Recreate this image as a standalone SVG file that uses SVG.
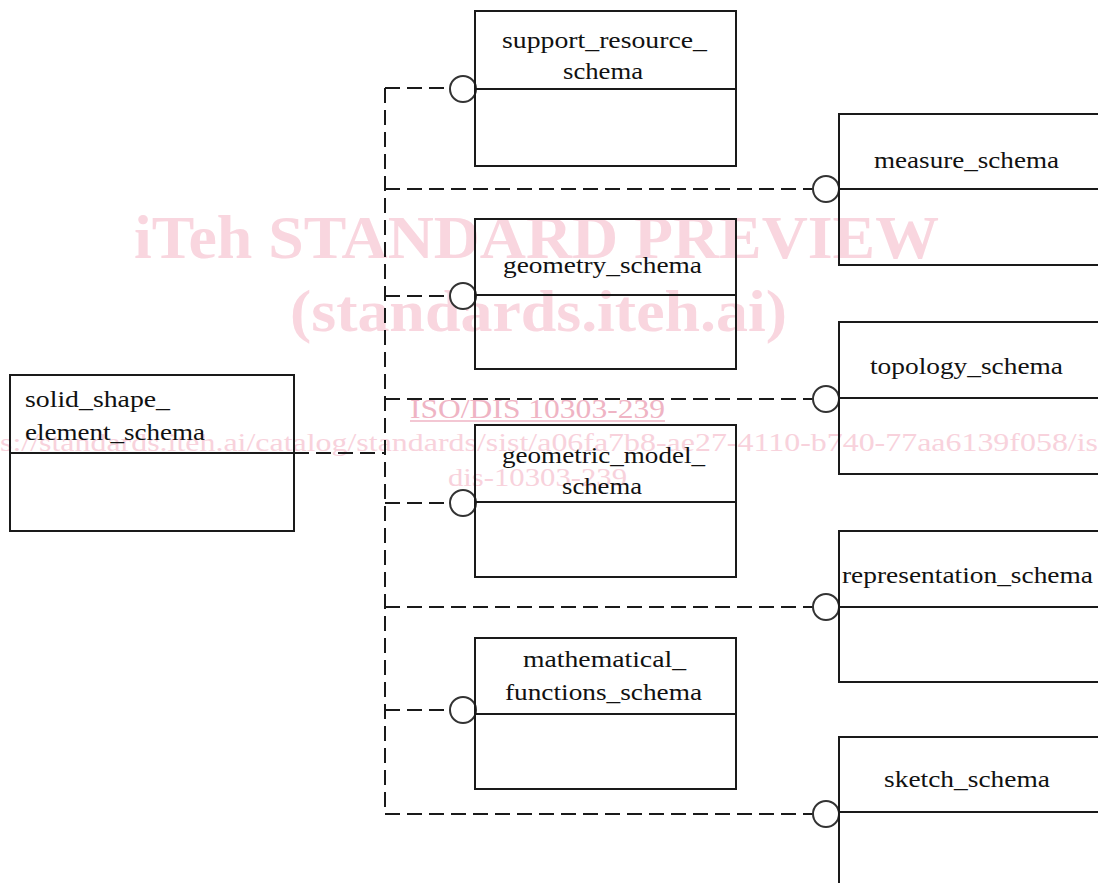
<svg xmlns="http://www.w3.org/2000/svg" width="1098" height="883" viewBox="0 0 1098 883">
<style>
.wm{font-family:"Liberation Serif","Times New Roman",serif;font-weight:bold;fill:#f9d6df}
.wm2{font-family:"Liberation Serif","Times New Roman",serif;fill:#f8d2dc}
.iso{font-family:"Liberation Serif","Times New Roman",serif;fill:#efb4c4}
.box{fill:none;stroke:#1a1a1a;stroke-width:2}
.lbl{font-family:"Liberation Serif","Times New Roman",serif;font-size:23px;fill:#111}
.dash{fill:none;stroke:#1a1a1a;stroke-width:2;stroke-dasharray:15 7}
.ring{fill:#fff;stroke:#333;stroke-width:2}
</style>
<rect width="1098" height="883" fill="#fff"/>
<g id="watermark">
<text class="wm" x="134" y="258" font-size="62" textLength="805" lengthAdjust="spacingAndGlyphs">iTeh STANDARD PREVIEW</text>
<text class="wm" x="290" y="331" font-size="60" textLength="497" lengthAdjust="spacingAndGlyphs">(standards.iteh.ai)</text>
<text class="iso" x="410" y="418" font-size="27" textLength="255" lengthAdjust="spacingAndGlyphs">ISO/DIS 10303-239</text>
<line x1="410" y1="421" x2="665" y2="421" stroke="#efb4c4" stroke-width="1.5"/>
<text class="wm2" x="0" y="451" font-size="26" textLength="1098" lengthAdjust="spacingAndGlyphs">s://standards.iteh.ai/catalog/standards/sist/a06fa7b8-ae27-4110-b740-77aa6139f058/is</text>
<text class="wm2" x="448" y="486" font-size="26" textLength="179" lengthAdjust="spacingAndGlyphs">dis-10303-239</text>
</g>
<g id="connectors">
<path class="dash" d="M385 88 V814"/>
<path class="dash" d="M294 453 H385"/>
<path class="dash" d="M385 88 H451"/>
<path class="dash" d="M385 189 H814"/>
<path class="dash" d="M385 296 H451"/>
<path class="dash" d="M385 399 H814"/>
<path class="dash" d="M385 503 H451"/>
<path class="dash" d="M385 607 H814"/>
<path class="dash" d="M385 710 H451"/>
<path class="dash" d="M385 814 H814"/>
<circle class="ring" cx="463" cy="89" r="13"/>
<circle class="ring" cx="826" cy="189" r="13"/>
<circle class="ring" cx="463" cy="296" r="13"/>
<circle class="ring" cx="826" cy="399" r="13"/>
<circle class="ring" cx="463" cy="503" r="13"/>
<circle class="ring" cx="826" cy="607" r="13"/>
<circle class="ring" cx="463" cy="710" r="13"/>
<circle class="ring" cx="826" cy="814" r="13"/>
</g>
<g id="solid_shape_element_schema">
<rect class="box" x="10" y="375" width="284" height="156"/>
<line class="box" x1="10" y1="453" x2="294" y2="453"/>
<text class="lbl" x="25" y="407" textLength="145" lengthAdjust="spacingAndGlyphs">solid_shape_</text>
<text class="lbl" x="25" y="440" textLength="180" lengthAdjust="spacingAndGlyphs">element_schema</text>
</g>
<g id="support_resource_schema">
<rect class="box" x="475" y="11" width="261" height="155"/>
<line class="box" x1="475" y1="89" x2="736" y2="89"/>
<text class="lbl" x="502" y="48" textLength="205" lengthAdjust="spacingAndGlyphs">support_resource_</text>
<text class="lbl" x="563" y="79" textLength="80" lengthAdjust="spacingAndGlyphs">schema</text>
</g>
<g id="geometry_schema">
<rect class="box" x="475" y="219" width="261" height="150"/>
<line class="box" x1="475" y1="295" x2="736" y2="295"/>
<text class="lbl" x="503" y="273" textLength="199" lengthAdjust="spacingAndGlyphs">geometry_schema</text>
</g>
<g id="geometric_model_schema">
<rect class="box" x="475" y="425" width="261" height="152"/>
<line class="box" x1="475" y1="502" x2="736" y2="502"/>
<text class="lbl" x="502" y="463" textLength="203" lengthAdjust="spacingAndGlyphs">geometric_model_</text>
<text class="lbl" x="562" y="494" textLength="80" lengthAdjust="spacingAndGlyphs">schema</text>
</g>
<g id="mathematical_functions_schema">
<rect class="box" x="475" y="638" width="261" height="151"/>
<line class="box" x1="475" y1="714" x2="736" y2="714"/>
<text class="lbl" x="523" y="667" textLength="163" lengthAdjust="spacingAndGlyphs">mathematical_</text>
<text class="lbl" x="505" y="700" textLength="197" lengthAdjust="spacingAndGlyphs">functions_schema</text>
</g>
<g id="measure_schema">
<path class="box" d="M1110 114 H839 V265 H1110 M839 189 H1110"/>
<text class="lbl" x="874" y="168" textLength="185" lengthAdjust="spacingAndGlyphs">measure_schema</text>
</g>
<g id="topology_schema">
<path class="box" d="M1110 322 H839 V474 H1110 M839 398 H1110"/>
<text class="lbl" x="870" y="374" textLength="193" lengthAdjust="spacingAndGlyphs">topology_schema</text>
</g>
<g id="representation_schema">
<path class="box" d="M1110 531 H839 V682 H1110 M839 607 H1110"/>
<text class="lbl" x="842" y="583" textLength="251" lengthAdjust="spacingAndGlyphs">representation_schema</text>
</g>
<g id="sketch_schema">
<path class="box" d="M1110 737 H839 V890 M839 812 H1110"/>
<text class="lbl" x="884" y="787" textLength="166" lengthAdjust="spacingAndGlyphs">sketch_schema</text>
</g>
</svg>
